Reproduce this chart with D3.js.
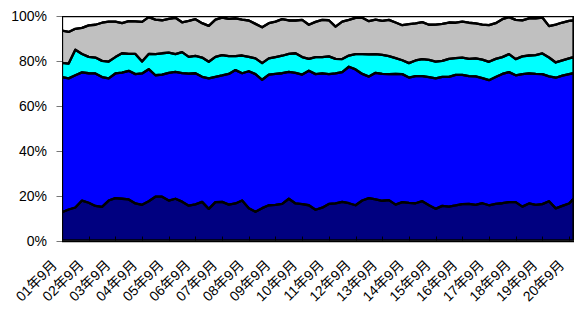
<!DOCTYPE html>
<html>
<head>
<meta charset="utf-8">
<script src="https://cdn.jsdelivr.net/npm/d3@7"></script>
<style>
  body { margin: 0; background: #fff; }
  svg text { font-family: "Liberation Sans", Arial, "Noto Sans CJK JP", sans-serif; fill: #000; }
</style>
</head>
<body>
<div id="chart"></div>
<script>
// year labels on the category axis (one per 12 months)
const tickLabels = ["01年9月", "02年9月", "03年9月", "04年9月", "05年9月", "06年9月", "07年9月",
  "08年9月", "09年9月", "10年9月", "11年9月", "12年9月", "13年9月", "14年9月", "15年9月",
  "16年9月", "17年9月", "18年9月", "19年9月", "20年9月"];

// samples every 3 months from 01年9月, last one the final month shown
const sampleMonths = [...d3.range(0, 229, 3), 230];

// shares (%) of each layer, bottom to top
const navy = [12.6,13.8,14.7,17.8,16.8,15.4,15.0,17.8,18.9,18.6,
  18.3,16.5,15.9,17.5,19.5,19.5,17.8,18.6,17.3,15.5,
  16.1,17.2,14.1,17.1,17.2,16.0,16.5,17.8,14.4,12.8,
  14.4,15.7,15.9,16.3,18.6,16.5,16.2,15.7,13.7,14.6,
  16.3,16.5,17.2,16.6,15.7,17.8,18.9,18.3,17.7,18.0,
  16.0,17.1,16.8,16.6,17.5,15.7,14.1,15.4,15.1,15.6,
  16.2,16.3,15.9,16.6,15.7,16.3,16.6,17.1,17.1,15.1,
  16.5,15.9,16.2,17.5,14.3,15.4,16.5,18.6];
const blue = [60.2,58.4,58.9,57.1,57.7,59.0,57.8,54.4,55.5,56.2,
  57.3,57.6,58.5,58.8,54.1,54.4,56.9,56.5,57.3,58.8,
  58.4,55.7,58.1,55.8,56.3,58.2,59.4,56.7,61.0,61.3,
  57.2,58.2,58.3,58.2,56.5,58.2,57.7,59.9,60.4,59.8,
  57.8,57.9,57.8,60.8,60.5,56.4,54.1,56.4,56.5,56.1,
  58.2,57.0,55.8,56.6,55.7,57.1,58.1,57.5,57.8,58.2,
  57.6,56.9,57.2,55.7,55.7,56.5,57.6,57.9,56.5,59.0,
  57.9,58.3,57.9,55.6,58.2,58.0,57.6,55.9];
const cyan = [6.3,6.6,11.4,8.2,7.3,7.1,7.2,7.5,7.3,8.6,
  7.5,9.0,5.3,6.8,9.4,9.5,9.0,7.9,9.3,7.5,
  7.7,8.6,7.4,8.9,9.1,7.9,6.2,7.9,6.4,7.0,
  7.4,7.2,7.5,7.8,8.0,8.7,7.8,5.3,7.6,7.3,
  7.9,6.5,5.8,5.0,6.8,8.8,9.9,8.3,8.5,8.0,
  7.0,6.2,6.4,7.0,7.6,7.7,7.5,7.1,8.0,7.4,
  7.7,7.7,8.0,8.3,8.2,8.1,7.5,8.0,7.2,7.9,
  8.0,8.4,9.2,8.4,6.8,6.8,7.0,7.2];
const gray = [14.4,14.1,9.3,11.6,14.0,14.6,17.0,17.8,15.8,13.4,
  14.6,14.5,17.7,16.4,15.4,14.7,15.0,16.2,13.3,16.0,
  16.4,15.3,16.0,16.6,16.7,16.6,16.8,16.0,16.2,15.4,
  16.0,15.7,15.8,16.3,14.9,14.6,16.6,15.2,15.7,16.6,
  16.1,14.4,16.7,15.9,16.2,16.2,14.8,15.4,15.1,16.2,
  15.9,15.6,17.4,16.5,16.5,15.6,16.5,16.5,16.2,15.8,
  16.0,16.1,15.6,15.6,16.3,15.9,16.9,16.5,17.5,16.1,
  16.5,16.3,16.0,14.0,16.9,16.9,16.7,16.3];
const white = [6.5,7.1,5.7,5.3,4.2,3.9,3.0,2.5,2.5,3.2,
  2.3,2.4,2.6,0.5,1.6,1.9,1.3,0.8,2.8,2.2,
  1.4,3.2,4.4,1.6,0.7,1.3,1.1,1.6,2.0,3.5,
  5.0,3.2,2.5,1.4,2.0,2.0,1.7,3.9,2.6,1.7,
  1.9,4.7,2.5,1.7,0.8,0.8,2.3,1.6,2.2,1.7,
  2.9,4.1,3.6,3.3,2.7,3.9,3.8,3.5,2.9,3.0,
  2.5,3.0,3.3,3.8,4.1,3.2,1.4,0.5,1.7,1.9,
  1.1,1.1,0.7,4.5,3.8,2.9,2.2,2.0];

const keys = ["navy", "blue", "cyan", "gray", "white"];
const fills = { navy: "#000080", blue: "#0000ff", cyan: "#00ffff", gray: "#c0c0c0", white: "#ffffff" };

const rows = sampleMonths.map((m, i) => ({
  month: m, navy: navy[i], blue: blue[i], cyan: cyan[i], gray: gray[i], white: white[i]
}));

const width = 574, height = 309;
const plot = { left: 62, right: 573.5, top: 16, bottom: 240.5 };

const x = d3.scaleLinear().domain([0, 230]).range([plot.left, plot.right]);
const y = d3.scaleLinear().domain([0, 1]).range([plot.bottom, plot.top]);

const series = d3.stack().keys(keys).offset(d3.stackOffsetExpand)(rows);

const svg = d3.select("#chart").append("svg")
  .attr("width", width)
  .attr("height", height);

svg.append("clipPath").attr("id", "clip")
  .append("rect")
  .attr("x", plot.left).attr("y", plot.top)
  .attr("width", plot.right - plot.left + 1)
  .attr("height", plot.bottom - plot.top);

const area = d3.area()
  .x(d => x(d.data.month))
  .y0(d => y(d[0]))
  .y1(d => y(d[1]));

const g = svg.append("g").attr("clip-path", "url(#clip)");

g.selectAll("path.fill")
  .data(series)
  .join("path")
  .attr("class", "fill")
  .attr("fill", d => fills[d.key])
  .attr("d", area);

g.selectAll("path.edge")
  .data(series)
  .join("path")
  .attr("class", "edge")
  .attr("fill", "none")
  .attr("stroke", "#000")
  .attr("stroke-width", 2.3)
  .attr("stroke-linejoin", "round")
  .attr("d", area);

// y axis
const yTicks = d3.range(0, 1.01, 0.2);
svg.append("g")
  .selectAll("line")
  .data(yTicks)
  .join("line")
  .attr("x1", plot.left - 5.5).attr("x2", plot.left)
  .attr("y1", d => Math.round(y(d)) + 0.5).attr("y2", d => Math.round(y(d)) + 0.5)
  .attr("stroke", "#777");

svg.append("g")
  .selectAll("text")
  .data(yTicks)
  .join("text")
  .attr("x", 47)
  .attr("y", d => y(d))
  .attr("dy", "0.36em")
  .attr("text-anchor", "end")
  .attr("font-size", 14)
  .text(d => d3.format(".0%")(d));

// x axis
svg.append("line")
  .attr("x1", plot.left).attr("x2", width)
  .attr("y1", plot.bottom + 0.8).attr("y2", plot.bottom + 0.8)
  .attr("stroke", "#000").attr("stroke-width", 2);

svg.append("g")
  .selectAll("line")
  .data(tickLabels)
  .join("line")
  .attr("x1", (d, i) => Math.round(x(i * 12)) + 0.5)
  .attr("x2", (d, i) => Math.round(x(i * 12)) + 0.5)
  .attr("y1", plot.bottom - 4).attr("y2", plot.bottom)
  .attr("stroke", "#000");

svg.append("g")
  .selectAll("text")
  .data(tickLabels)
  .join("text")
  .attr("transform", (d, i) => `translate(${x(i * 12) - 4},266) rotate(-45)`)
  .attr("text-anchor", "end")
  .attr("font-size", 14)
  .text(d => d);
</script>
</body>
</html>
